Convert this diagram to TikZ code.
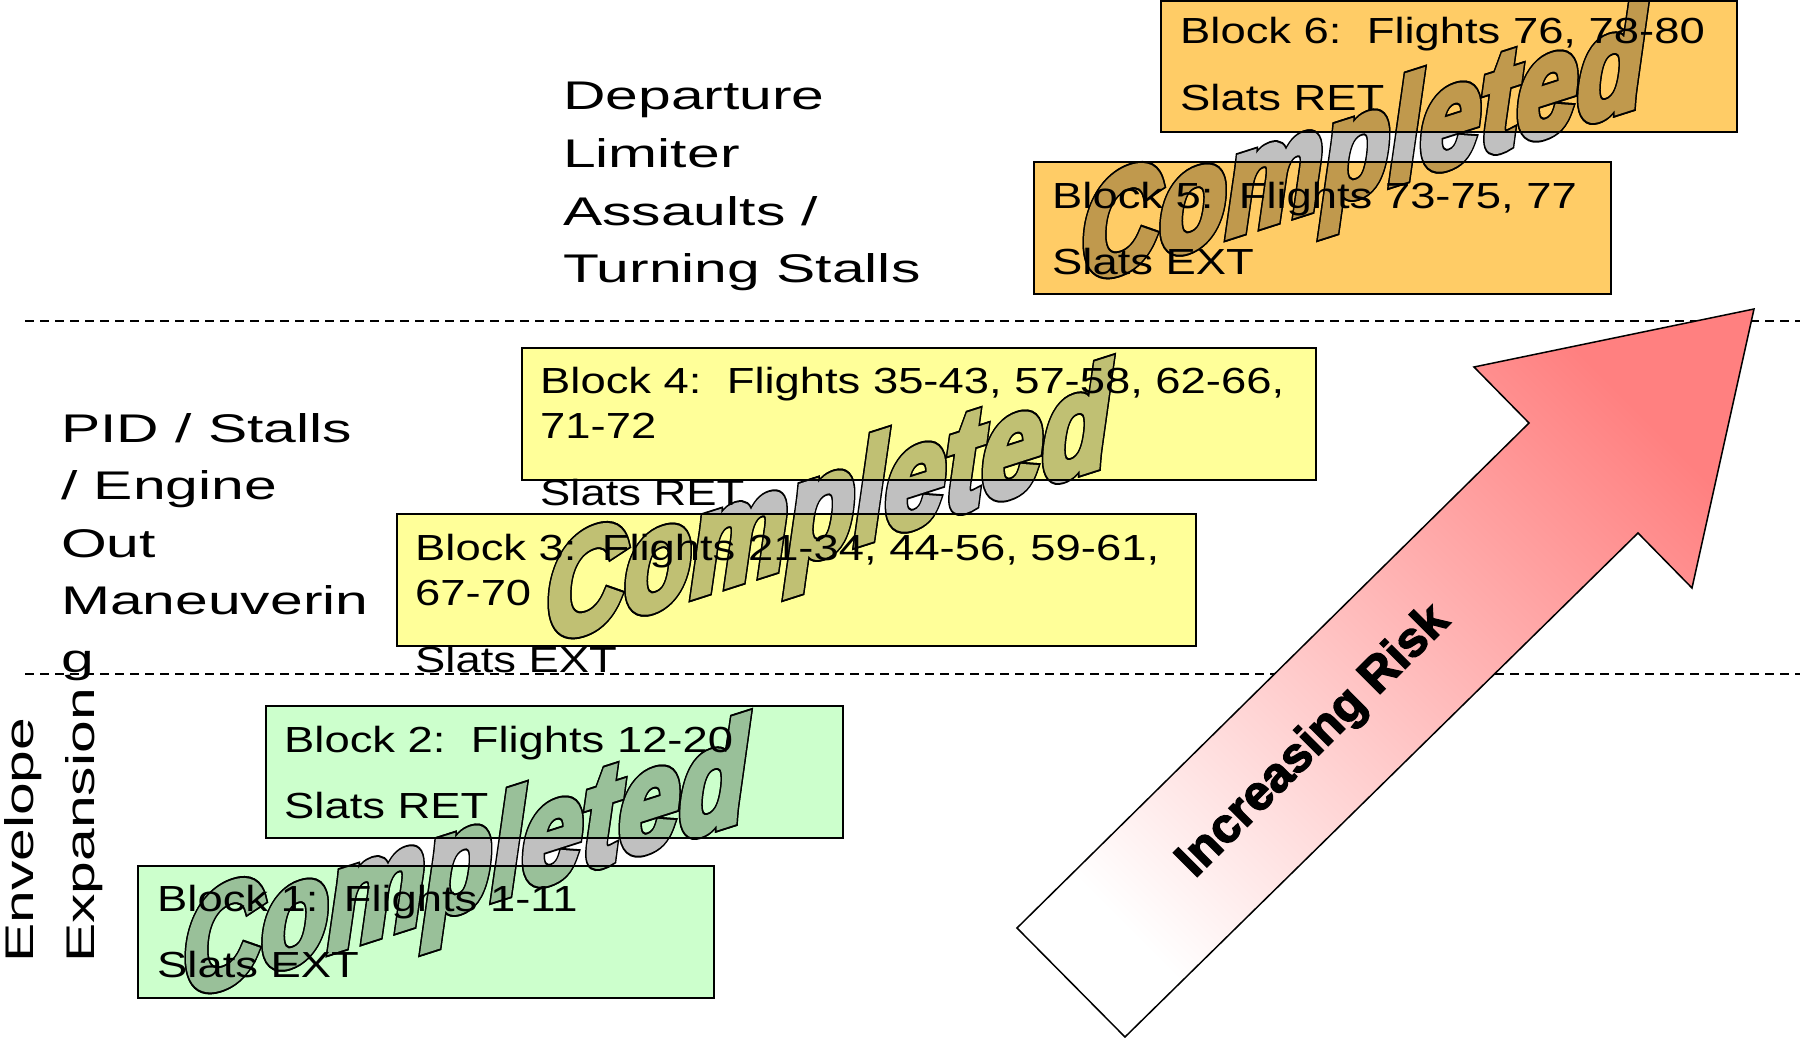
\documentclass[tikz,border=0pt]{standalone}
\usepackage{fontspec}
\setmainfont{Liberation Sans}
\newfontfamily\boxfont[FakeStretch=1.25]{Liberation Sans}
\newfontfamily\labfont[FakeStretch=1.47]{Liberation Sans}
\newfontfamily\wafont{Liberation Sans}
\newfontfamily\riskfont{Liberation Sans}
\definecolor{orangebox}{HTML}{FFCC66}
\definecolor{yellowbox}{HTML}{FFFF99}
\definecolor{greenbox}{HTML}{CCFFCC}
\definecolor{riskred}{HTML}{FF8080}
\definecolor{wagray}{HTML}{C0C0C0}
\definecolor{waorange}{HTML}{C0994D}
\definecolor{wayellow}{HTML}{C0C073}
\definecolor{wagreen}{HTML}{99C099}
% heavy text: fill and stroke the glyphs with the current colour
\newcommand{\heavytext}[2]{\special{pdf:literal direct 2 Tr #1 w 4 M}#2\special{pdf:literal direct 0 Tr}}
\tikzset{
  blockfill/.style={anchor=north west, inner sep=0pt, outer sep=0pt},
  blockline/.style={draw=black, line width=2pt},
  boxtext/.style={anchor=base west, inner sep=0pt, font=\boxfont\fontsize{36.3}{45}\selectfont},
  labtext/.style={anchor=base west, inner sep=0pt, font=\labfont\fontsize{40}{57.5}\selectfont},
  sepline/.style={line width=2pt, dash pattern=on 9pt off 6pt},
  wordart/.style={anchor=base west, inner sep=0pt, yslant=0.32, yscale=1.3, font=\wafont\bfseries\itshape\fontsize{109}{109}\selectfont},
  riskarrow/.style={draw=black, line width=1.5pt, top color=riskred, bottom color=white, shading angle=-45},
  risktext/.style={rotate=45, inner sep=0pt, font=\riskfont\bfseries\fontsize{49}{49}\selectfont},
}
% a "Completed" stamp: black rim, then coloured body
\newcommand{\wastamp}[3]{%
  \node[wordart, text=black] (#1k) at #2 {\heavytext{8}{Completed}};
  \node[wordart, text=#3] (#1f) at #2 {\heavytext{5}{Completed}};
}
\begin{document}
\begin{tikzpicture}[x=1pt,y=-1pt]
\useasboundingbox (0,0) rectangle (1800,1038);
% separator lines
\coordinate (d1s) at (25,321); \coordinate (d1e) at (1800,321);
\coordinate (d2s) at (25,674); \coordinate (d2e) at (1800,674);
\draw[sepline] (d1s) -- (d1e);
\draw[sepline] (d2s) -- (d2e);
% arrow
\coordinate (atl) at (1017,928);
\coordinate (atr) at (1125,1037);
\coordinate (ajr) at (1638,533);
\coordinate (abr) at (1692,588);
\coordinate (atip) at (1754,309);
\coordinate (abl) at (1474,367);
\coordinate (ajl) at (1529,423);
\path[riskarrow] (atl) -- (atr) -- (ajr) -- (abr) -- (atip) -- (abl) -- (ajl) -- cycle;
\node[risktext] (risk) at (1314,742) {\heavytext{1.4}{Increasing Risk}};
% box fills
\node[blockfill, fill=greenbox, minimum width=576pt, minimum height=132pt] (b1) at (138,866) {};
\node[blockfill, fill=greenbox, minimum width=577pt, minimum height=132pt] (b2) at (266,706) {};
\node[blockfill, fill=yellowbox, minimum width=799pt, minimum height=132pt] (b3) at (397,514) {};
\node[blockfill, fill=yellowbox, minimum width=794pt, minimum height=132pt] (b4) at (522,348) {};
\node[blockfill, fill=orangebox, minimum width=577pt, minimum height=132pt] (b5) at (1034,162) {};
\node[blockfill, fill=orangebox, minimum width=576pt, minimum height=131pt] (b6) at (1161,1.5) {};
% completed stamps (grey on white)
\coordinate (s1) at (183,998);
\coordinate (s2) at (546,643);
\coordinate (s3) at (1081,283);
\wastamp{c1}{(s1)}{wagray}
\wastamp{c2}{(s2)}{wagray}
\wastamp{c3}{(s3)}{wagray}
% the same stamps, tinted where they lie on a box
\begin{scope}\clip (b1.north west) rectangle (b1.south east); \wastamp{c1a}{(s1)}{wagreen}\end{scope}
\begin{scope}\clip (b2.north west) rectangle (b2.south east); \wastamp{c1b}{(s1)}{wagreen}\end{scope}
\begin{scope}\clip (b3.north west) rectangle (b3.south east); \wastamp{c2a}{(s2)}{wayellow}\end{scope}
\begin{scope}\clip (b4.north west) rectangle (b4.south east); \wastamp{c2b}{(s2)}{wayellow}\end{scope}
\begin{scope}\clip (b5.north west) rectangle (b5.south east); \wastamp{c3a}{(s3)}{waorange}\end{scope}
\begin{scope}\clip (b6.north west) rectangle (b6.south east); \wastamp{c3b}{(s3)}{waorange}\end{scope}
% box borders
\draw[blockline] (b1.north west) rectangle (b1.south east);
\draw[blockline] (b2.north west) rectangle (b2.south east);
\draw[blockline] (b3.north west) rectangle (b3.south east);
\draw[blockline] (b4.north west) rectangle (b4.south east);
\draw[blockline] (b5.north west) rectangle (b5.south east);
\draw[blockline] (b6.north west) rectangle (b6.south east);
% box texts
\node[boxtext] (t1a) at (157,911) {Block 1:\ \ Flights 1-11};
\node[boxtext] (t1b) at (157,977) {Slats EXT};
\node[boxtext] (t2a) at (284,752) {Block 2:\ \ Flights 12-20};
\node[boxtext] (t2b) at (284,818) {Slats RET};
\node[boxtext] (t3a) at (415,560) {Block 3:\ \ Flights 21-34, 44-56, 59-61,};
\node[boxtext] (t3b) at (415,605) {67-70};
\node[boxtext] (t3c) at (415,672) {Slats EXT};
\node[boxtext] (t4a) at (540,393) {Block 4:\ \ Flights 35-43, 57-58, 62-66,};
\node[boxtext] (t4b) at (540,438) {71-72};
\node[boxtext] (t4c) at (540,505) {Slats RET};
\node[boxtext] (t5a) at (1052,208) {Block 5:\ \ Flights 73-75, 77};
\node[boxtext] (t5b) at (1052,274) {Slats EXT};
\node[boxtext] (t6a) at (1180,44) {Block 6:\ \ Flights 76, 78-80};
\node[boxtext] (t6b) at (1180,111) {Slats RET};
% phase labels
\node[labtext] (l1a) at (563,110) {Departure};
\node[labtext] (l1b) at (563,167.5) {Limiter};
\node[labtext] (l1c) at (563,225) {Assaults /};
\node[labtext] (l1d) at (563,282.5) {Turning Stalls};
\node[labtext] (l2a) at (61,442) {PID / Stalls};
\node[labtext] (l2b) at (61,499.5) {/ Engine};
\node[labtext] (l2c) at (61,557) {Out};
\node[labtext] (l2d) at (61,614.5) {Maneuverin};
\node[labtext] (l2e) at (61,672) {g};
\node[labtext, rotate=90] (l3a) at (34,963) {Envelope};
\node[labtext, rotate=90] (l3b) at (94,963) {Expansion};
\end{tikzpicture}
\end{document}
